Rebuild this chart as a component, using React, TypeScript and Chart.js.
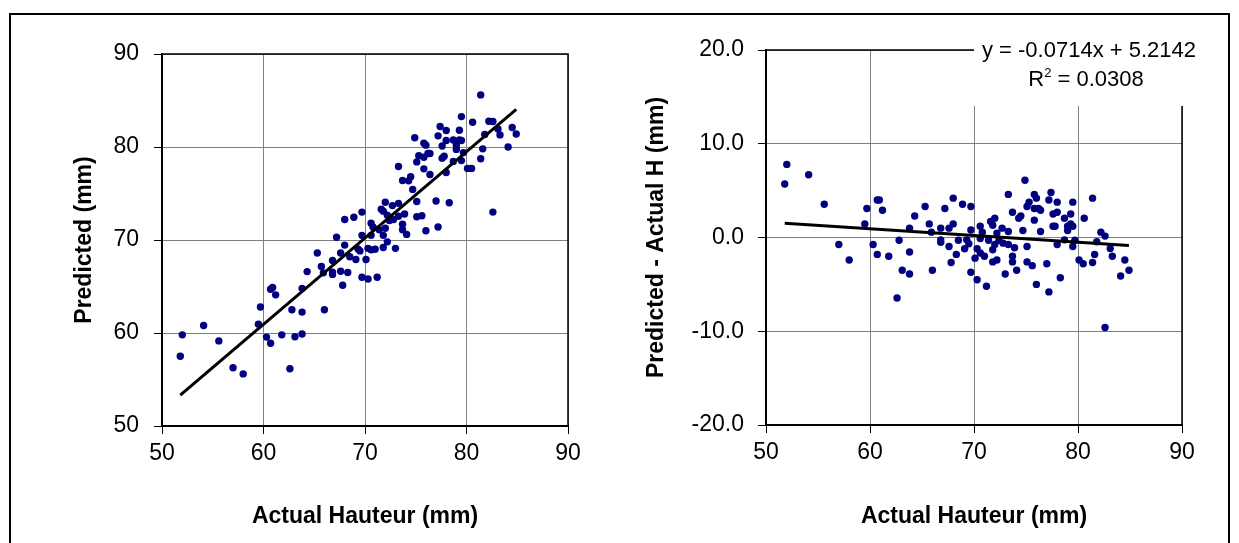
import React, { useEffect, useRef } from "react";
import { Chart, registerables } from "chart.js";

Chart.register(...registerables);

// Actual hauteur (mm) of each sample
const actualHauteur = [
  52.0, 54.1, 51.8, 55.6, 60.7, 60.9, 59.7, 61.2, 59.5, 57.0,
  58.0, 60.3, 60.7, 61.8, 62.8, 63.1, 62.6, 63.8, 63.8, 63.8,
  64.3, 65.3, 65.7, 66.0, 65.9, 66.8, 66.8, 66.8, 67.2, 67.6,
  67.6, 68.0, 68.0, 67.8, 68.3, 68.5, 68.9, 69.1, 69.3, 69.5,
  69.7, 69.7, 69.7, 70.1, 70.3, 70.3, 70.6, 70.6, 70.6, 71.0,
  70.8, 71.2, 71.6, 72.0, 71.8, 71.4, 71.8, 71.8, 72.2, 72.0,
  72.4, 72.2, 72.7, 72.8, 73.0, 73.3, 73.3, 73.3, 73.7, 73.7,
  73.7, 73.9, 74.1, 74.3, 74.5, 74.7, 74.9, 75.1, 75.1, 75.1,
  75.3, 75.6, 75.8, 75.8, 75.8, 76.0, 76.0, 76.2, 76.4, 76.4,
  77.0, 77.4, 77.2, 78.0, 79.5, 81.4, 77.6, 78.0, 79.3, 78.7,
  80.6, 77.6, 77.8, 79.0, 79.3, 79.5, 79.0, 78.0, 78.7, 79.5,
  79.7, 81.8, 82.2, 82.6, 83.1, 83.3, 81.6, 81.4, 80.1, 80.5,
  78.3, 77.2, 84.5, 84.9, 84.1, 82.6,
];

// Predicted - Actual H (mm) for the same samples
const residualH = [
  7.8, 6.7, 5.7, 3.55, 4.0, 4.0, 3.1, 2.9, 1.45, -0.74,
  -2.4, -0.74, -1.8, -2.0, -0.3, -3.5, -6.45, -1.55, -3.9, 1.0,
  2.3, 3.3, 1.45, -3.5, 0.57, 1.0, -0.25, -0.5, 3.1, -0.96,
  1.0, 4.2, 1.45, -2.66, -1.8, -0.3, 3.55, -1.2, -0.25, -0.67,
  3.3, 0.8, -3.7, -2.2, -1.2, -4.5, 1.2, -0.1, -1.66, -2.0,
  0.57, -5.2, 1.7, 2.06, 1.3, -0.3, -1.3, -2.6, -2.4, -0.74,
  -0.3, 0.47, 1.0, -0.6, -3.9, 4.6, 0.64, -0.74, 2.7, -2.0,
  -2.6, -1.1, -3.5, 2.06, 2.3, 0.74, 6.1, 3.3, -0.96, -2.6,
  3.77, -3.0, 4.6, 3.1, 1.85, 4.2, -5.0, 3.1, 0.64, 2.9,
  -2.8, 4.8, 4.0, 3.77, 3.77, 4.2, 2.5, 2.7, 2.5, 2.06,
  2.06, 1.2, 1.2, 1.2, 1.45, 1.2, 0.74, -0.74, -0.25, -0.96,
  -0.3, -0.46, 0.57, 0.15, -1.17, -2.0, -1.8, -2.66, -2.4, -2.8,
  -4.3, -5.8, -2.4, -3.5, -4.1, -9.6,
];

const xAxisTicks = [50, 60, 70, 80, 90];
const predictedTicks = [50, 60, 70, 80, 90];
const residualTicks = [-20, -10, 0, 10, 20];

const trendSlope = -0.0714;
const trendIntercept = 5.2142;
const trendR2 = 0.0308;

const xTitle = "Actual Hauteur (mm)";
const leftYTitle = "Predicted (mm)";
const rightYTitle = "Predicted - Actual H (mm)";

const FONT = '"Liberation Sans", Arial, Helvetica, sans-serif';
const TICK_SIZE = 23;
const EQ_SIZE = 22;
const TITLE_SIZE = 23;
const POINT_COLOR = "#000080";
const GRID_COLOR = "#808080";

const plotBorderPlugin = {
  id: "plotBorder",
  beforeDatasetsDraw(chart: any) {
    const { ctx, chartArea } = chart;
    ctx.save();
    ctx.strokeStyle = "#000";
    ctx.lineWidth = 1.5;
    ctx.strokeRect(chartArea.left, chartArea.top, chartArea.right - chartArea.left, chartArea.bottom - chartArea.top);
    ctx.restore();
  },
};

function makeScales(
  yTicks: number[],
  yTitle: string,
  yWidth: number,
  yTitlePad: number,
  yLabelPad: number,
  xHeight: number,
  decimals: number
) {
  return {
    x: {
      type: "linear",
      min: xAxisTicks[0],
      max: xAxisTicks[xAxisTicks.length - 1],
      afterBuildTicks: (s: any) => {
        s.ticks = xAxisTicks.map((v) => ({ value: v }));
      },
      afterFit: (s: any) => {
        s.height = xHeight;
      },
      ticks: {
        color: "#000",
        font: { family: FONT, size: TICK_SIZE },
        padding: 6,
        maxRotation: 0,
        autoSkip: false,
        callback: (v: any) => String(v),
      },
      grid: { color: GRID_COLOR, lineWidth: 1, tickColor: "#000", tickLength: 8, tickWidth: 1 },
      border: { color: "#000", width: 2 },
      title: {
        display: true,
        text: xTitle,
        color: "#000",
        font: { family: FONT, size: TITLE_SIZE, weight: "bold" },
        padding: { top: 0, bottom: 10 },
      },
    },
    y: {
      type: "linear",
      min: yTicks[0],
      max: yTicks[yTicks.length - 1],
      afterBuildTicks: (s: any) => {
        s.ticks = yTicks.map((v) => ({ value: v }));
      },
      afterFit: (s: any) => {
        s.width = yWidth;
      },
      ticks: {
        color: "#000",
        font: { family: FONT, size: TICK_SIZE },
        padding: yLabelPad,
        autoSkip: false,
        callback: (v: any) => Number(v).toFixed(decimals),
      },
      grid: { color: GRID_COLOR, lineWidth: 1, tickColor: "#000", tickLength: 8, tickWidth: 1 },
      border: { color: "#000", width: 2 },
      title: {
        display: true,
        text: yTitle,
        color: "#000",
        font: { family: FONT, size: TITLE_SIZE, weight: "bold" },
        padding: { top: yTitlePad, bottom: 0 },
      },
    },
  };
}

function ChartCanvas({ build, style, width, height }: any) {
  const ref = useRef<HTMLCanvasElement | null>(null);
  useEffect(() => {
    if (!ref.current) return;
    const chart = new Chart(ref.current, build());
    return () => chart.destroy();
  }, []);
  return <canvas ref={ref} width={width} height={height} style={{ position: "absolute", width, height, ...style }} />;
}

const minX = Math.min(...actualHauteur);
const maxX = Math.max(...actualHauteur);

function buildLeft() {
  const pts = actualHauteur.map((x, i) => ({ x, y: x + residualH[i] }));
  const a = 1 + trendSlope;
  const trend = [
    { x: minX, y: a * minX + trendIntercept },
    { x: maxX, y: a * maxX + trendIntercept },
  ];
  return {
    type: "scatter",
    data: {
      datasets: [
        { type: "line", data: trend, borderColor: "#000", borderWidth: 3, pointRadius: 0, showLine: true, order: 0, fill: false },
        { data: pts, backgroundColor: POINT_COLOR, borderColor: POINT_COLOR, borderWidth: 0, pointRadius: 3.7, order: 1 },
      ],
    },
    options: {
      responsive: false,
      animation: false,
      layout: { padding: { top: 34, right: 42, left: 0, bottom: 0 } },
      plugins: { legend: { display: false }, tooltip: { enabled: false } },
      events: [],
      scales: makeScales(predictedTicks, leftYTitle, 142, 51, 15, 114, 0),
    },
    plugins: [plotBorderPlugin],
  };
}

const equationPlugin = {
  id: "equation",
  afterDraw(chart: any) {
    const { ctx } = chart;
    ctx.save();
    ctx.fillStyle = "#fff";
    ctx.fillRect(364, 0, 230, 86);
    ctx.fillStyle = "#000";
    ctx.font = `${EQ_SIZE}px ${FONT}`;
    ctx.textBaseline = "middle";
    ctx.textAlign = "center";
    const line1 = `y = ${trendSlope}x + ${trendIntercept}`;
    ctx.fillText(line1, 479, 31);
    const base = "R";
    const sup = "2";
    const rest = ` = ${trendR2.toFixed(4)}`;
    const supFont = `${Math.round(EQ_SIZE * 0.6)}px ${FONT}`;
    ctx.textAlign = "left";
    const wBase = ctx.measureText(base).width;
    const wRest = ctx.measureText(rest).width;
    ctx.font = supFont;
    const wSup = ctx.measureText(sup).width;
    const total = wBase + wSup + wRest;
    let x = 476 - total / 2;
    ctx.font = `${EQ_SIZE}px ${FONT}`;
    ctx.fillText(base, x, 60);
    x += wBase;
    ctx.font = supFont;
    ctx.fillText(sup, x, 53);
    x += wSup;
    ctx.font = `${EQ_SIZE}px ${FONT}`;
    ctx.fillText(rest, x, 60);
    ctx.restore();
  },
};

function buildRight() {
  const pts = actualHauteur.map((x, i) => ({ x, y: residualH[i] }));
  const trend = [
    { x: minX, y: trendSlope * minX + trendIntercept },
    { x: maxX, y: trendSlope * maxX + trendIntercept },
  ];
  return {
    type: "scatter",
    data: {
      datasets: [
        { type: "line", data: trend, borderColor: "#000", borderWidth: 3, pointRadius: 0, showLine: true, order: 0, fill: false },
        { data: pts, backgroundColor: POINT_COLOR, borderColor: POINT_COLOR, borderWidth: 0, pointRadius: 3.7, order: 1 },
      ],
    },
    options: {
      responsive: false,
      animation: false,
      layout: { padding: { top: 30, right: 48, left: 0, bottom: 0 } },
      plugins: { legend: { display: false }, tooltip: { enabled: false } },
      events: [],
      scales: makeScales(residualTicks, rightYTitle, 156, 33, 14, 115, 1),
    },
    plugins: [plotBorderPlugin, equationPlugin],
  };
}

export default function App() {
  return (
    <div style={{ position: "absolute", left: 0, top: 0, width: 1239, height: 543, overflow: "hidden", background: "#fff" }}>
      <div
        style={{
          position: "absolute",
          left: 9,
          top: 13,
          width: 1221,
          height: 560,
          boxSizing: "border-box",
          borderTop: "2px solid #000",
          borderLeft: "2px solid #000",
          borderRight: "2px solid #000",
        }}
      />
      <ChartCanvas build={buildLeft} width={590} height={520} style={{ left: 20, top: 20 }} />
      <ChartCanvas build={buildRight} width={620} height={520} style={{ left: 610, top: 20 }} />
    </div>
  );
}
